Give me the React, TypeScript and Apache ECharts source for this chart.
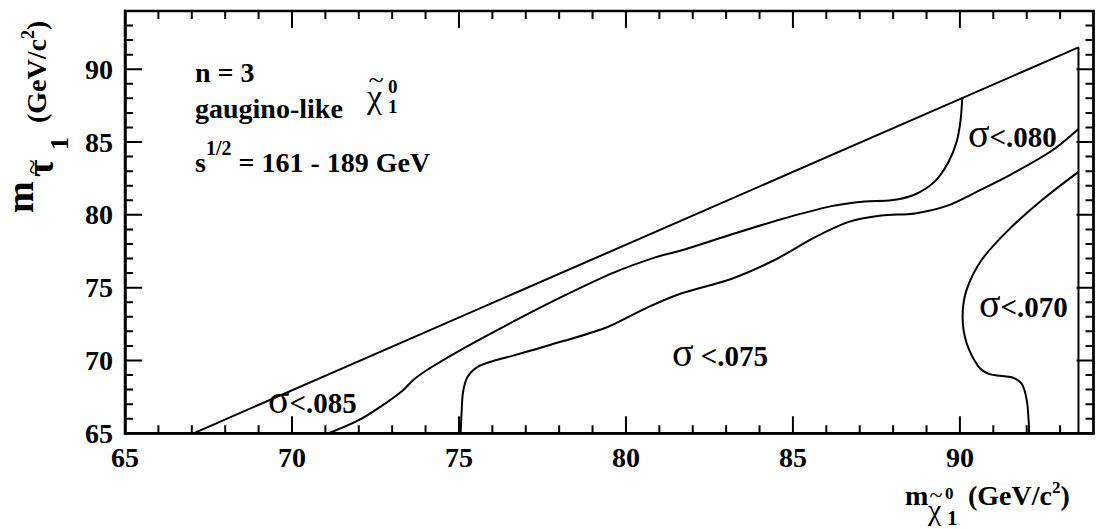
import React, { useEffect, useRef } from "react";
import * as echarts from "echarts";

const X_MIN = 65;
const X_MAX = 94;
const Y_MIN = 65;
const Y_MAX = 94;
const MAJOR_STEP = 5;

// tick positions on the frame (every GeV, major every 5)
const xTickValues = [66, 67, 68, 69, 70, 71, 72, 73, 74, 75, 76, 77, 78, 79, 80, 81, 82, 83, 84, 85, 86, 87, 88, 89, 90, 91, 92, 93];
const yTickValues = [66, 67, 68, 69, 70, 71, 72, 73, 74, 75, 76, 77, 78, 79, 80, 81, 82, 83, 84, 85, 86, 87, 88, 89, 90, 91, 92, 93];

// kinematic limit (diagonal) and right edge of the allowed region
const kinematicBoundary: [number, number][] = [
  [67.05, 65], [93.55, 91.5], [93.55, 65],
];

// contour separating sigma<.085 from sigma<.080
const contourUpper: [number, number][] = [
  [71.1, 65], [72.0, 65.9], [72.7, 66.9], [73.3, 67.9], [73.65, 68.7], [74.15, 69.5],
  [75.15, 70.85], [76.65, 72.7], [78.15, 74.45], [79.65, 76.05], [80.9, 77.1], [81.65, 77.55],
  [83.15, 78.65], [84.65, 79.7], [86.15, 80.6], [87.15, 80.92], [87.95, 81.0], [88.65, 81.4],
  [89.25, 82.3], [89.65, 83.6], [89.9, 85.0], [90.02, 86.5], [90.07, 88.05],
];

// contour bounding sigma<.075
const contourMiddle: [number, number][] = [
  [75.05, 65], [75.08, 66.5], [75.12, 67.8], [75.25, 68.85], [75.55, 69.55], [76.0, 69.95],
  [76.65, 70.35], [78.15, 71.35], [79.45, 72.3], [80.65, 73.65], [81.65, 74.6], [83.15, 75.6],
  [84.45, 76.9], [85.65, 78.45], [86.65, 79.5], [87.65, 79.95], [88.65, 80.1], [89.65, 80.65],
  [90.65, 81.75], [91.55, 82.8], [92.75, 84.4], [93.55, 85.9],
];

// contour bounding sigma<.070
const contourRight: [number, number][] = [
  [93.55, 82.95], [92.45, 81.0], [91.45, 78.95], [90.65, 76.9], [90.2, 74.85], [90.08, 73.0],
  [90.2, 71.2], [90.55, 69.6], [90.85, 69.1], [91.2, 68.95], [91.55, 68.85], [91.85, 68.4],
  [92.0, 67.3], [92.06, 65.8], [92.07, 65],
];

const FAMILY = '"Liberation Serif", "Times New Roman", serif';
const W = 1101;
const H = 529;
const GRID = { left: 125, right: 7.5, top: 11, bottom: 95.7 };
const PX_PER_X = (W - GRID.left - GRID.right) / (X_MAX - X_MIN);
const PX_PER_Y = (H - GRID.top - GRID.bottom) / (Y_MAX - Y_MIN);
const tickLen = (v: number) => (v % MAJOR_STEP === 0 ? 17 : 8);

type Piece = {
  t: string; fs: number; bold?: boolean; at?: number; gap?: number;
  b?: number; center?: boolean; overlay?: boolean;
};

let measureCtx: CanvasRenderingContext2D | null = null;
function tw(t: string, fs: number, bold?: boolean) {
  if (!measureCtx) measureCtx = document.createElement("canvas").getContext("2d");
  measureCtx!.font = `${bold ? "bold " : ""}${fs}px ${FAMILY}`;
  return measureCtx!.measureText(t).width;
}

function place(ox: number, oy: number, pieces: Piece[], rot = false) {
  const out: any[] = [];
  let cur = 0;
  for (const p of pieces) {
    const w = tw(p.t, p.fs, p.bold);
    let off = p.at !== undefined ? p.at : cur + (p.gap || 0);
    if (p.center) off -= w / 2;
    if (!p.overlay) cur = off + w;
    const b = p.b || 0;
    const style = {
      text: p.t, fontFamily: FAMILY, fontSize: p.fs,
      fontWeight: p.bold ? "bold" : "normal", fill: "#000",
      align: "left", verticalAlign: "middle",
      textAlign: "left", textVerticalAlign: "middle",
    };
    if (!rot) {
      out.push({ type: "text", x: ox + off, y: oy + b - 0.34 * p.fs, style });
    } else {
      out.push({
        type: "text", x: ox + b - 0.34 * p.fs, y: oy - off,
        rotation: Math.PI / 2, style,
      });
    }
  }
  return out;
}

// tick marks as one continuous zig-zag path per side (runs along the frame,
// goes in and back out at every tick value)
function tickPath(side: "bottom" | "top" | "left" | "right") {
  const out: [number, number][] = [];
  if (side === "bottom" || side === "top") {
    const y0 = side === "bottom" ? Y_MIN : Y_MAX;
    const dir = side === "bottom" ? 1 : -1;
    out.push([X_MIN, y0]);
    for (const v of xTickValues) {
      const d = (tickLen(v) / PX_PER_Y) * dir;
      out.push([v, y0], [v, y0 + d], [v, y0]);
    }
    out.push([X_MAX, y0]);
  } else {
    const x0 = side === "left" ? X_MIN : X_MAX;
    const dir = side === "left" ? 1 : -1;
    out.push([x0, Y_MIN]);
    for (const v of yTickValues) {
      const d = (tickLen(v) / PX_PER_X) * dir;
      out.push([x0, v], [x0 + d, v], [x0, v]);
    }
    out.push([x0, Y_MAX]);
  }
  return out;
}

export default function App() {
  const ref = useRef<HTMLDivElement>(null);
  useEffect(() => {
    if (!ref.current) return;
    const chart = echarts.init(ref.current, undefined, { renderer: "svg" });
    const lineSeries = (data: any[], smooth: number, width = 2) => ({
      type: "line", data, showSymbol: false, symbol: "none", smooth, silent: true,
      lineStyle: { color: "#000", width },
    });
    const texts = [
      ...place(195, 82, [{ t: "n = 3", fs: 28, bold: true }]),
      ...place(195, 118, [{ t: "gaugino-like", fs: 28, bold: true }]),
      ...place(367, 108, [
        { t: "χ", fs: 34 },
        { t: "~", fs: 28, at: 9, center: true, b: -19, overlay: true },
        { t: "0", fs: 19, bold: true, at: 21, b: -15, overlay: true },
        { t: "1", fs: 19, bold: true, at: 21, b: 5 },
      ]),
      ...place(195, 172, [
        { t: "s", fs: 28, bold: true },
        { t: "1/2", fs: 20, bold: true, b: -17 },
        { t: " = 161 - 189 GeV", fs: 28, bold: true },
      ]),
      ...place(268, 413, [{ t: "σ", fs: 40 }, { t: "<.085", fs: 29, bold: true }]),
      ...place(672, 366, [{ t: "σ", fs: 40 }, { t: " <.075", fs: 29, bold: true }]),
      ...place(979, 317, [{ t: "σ", fs: 40 }, { t: "<.070", fs: 29, bold: true }]),
      ...place(968, 147, [{ t: "σ", fs: 40 }, { t: "<.080", fs: 29, bold: true }]),
      // x axis title
      ...place(905, 505, [
        { t: "m", fs: 28, bold: true },
        { t: "χ", fs: 30, at: 23, b: 15 },
        { t: "~", fs: 24, at: 31, center: true, b: -2, overlay: true },
        { t: "0", fs: 17, bold: true, at: 40, b: -6, overlay: true },
        { t: "1", fs: 21, bold: true, at: 42, b: 20 },
        { t: "(GeV/c", fs: 28, bold: true, at: 63 },
        { t: "2", fs: 17, bold: true, b: -12 },
        { t: ")", fs: 28, bold: true },
      ]),
      // y axis title (rotated)
      ...place(33, 213, [
        { t: "m", fs: 38, bold: true },
        { t: "τ", fs: 38, bold: true, at: 36, b: 20 },
        { t: "~", fs: 28, at: 46, center: true, b: 8, overlay: true },
        { t: "1", fs: 26, bold: true, at: 63, b: 35 },
        { t: "(GeV/c", fs: 28, bold: true, at: 90, b: 13 },
        { t: "2", fs: 18, bold: true, b: 1 },
        { t: ")", fs: 28, bold: true, b: 13 },
      ], true),
    ];
    chart.setOption({
      animation: false,
      backgroundColor: "#fff",
      grid: {
        left: GRID.left, right: GRID.right, top: GRID.top, bottom: GRID.bottom,
        show: true, borderColor: "#000", borderWidth: 2.5,
      },
      xAxis: {
        type: "value", min: X_MIN, max: X_MAX, interval: MAJOR_STEP,
        splitLine: { show: false },
        axisLine: { show: true, onZero: false, lineStyle: { color: "#000", width: 2.5 } },
        axisTick: { show: false },
        axisLabel: {
          color: "#000", fontFamily: FAMILY, fontSize: 28, fontWeight: "bold",
          margin: 10, showMaxLabel: false,
        },
      },
      yAxis: {
        type: "value", min: Y_MIN, max: Y_MAX, interval: MAJOR_STEP,
        splitLine: { show: false },
        axisLine: { show: true, onZero: false, lineStyle: { color: "#000", width: 2.5 } },
        axisTick: { show: false },
        axisLabel: {
          color: "#000", fontFamily: FAMILY, fontSize: 28, fontWeight: "bold",
          margin: 12, showMaxLabel: false,
        },
      },
      series: [
        lineSeries(tickPath("bottom"), 0),
        lineSeries(tickPath("top"), 0),
        lineSeries(tickPath("left"), 0),
        lineSeries(tickPath("right"), 0),
        lineSeries(kinematicBoundary, 0),
        lineSeries(contourUpper, 0.3),
        lineSeries(contourMiddle, 0.3),
        lineSeries(contourRight, 0.3),
      ],
      graphic: texts,
    });
    return () => chart.dispose();
  }, []);
  return (
    <div
      ref={ref}
      style={{ position: "fixed", left: 0, top: 0, width: W, height: H, background: "#fff" }}
    />
  );
}
